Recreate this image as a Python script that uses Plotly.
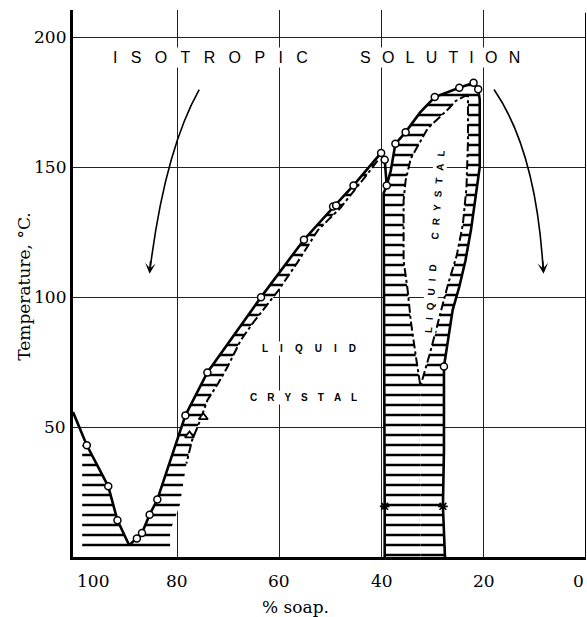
import plotly.graph_objects as go

# ---------------- data (x = % soap, y = temperature °C) ----------------
left_branch_x = [100.4, 97.7, 93.5, 91.7, 89.4]
left_branch_y = [55.8, 43.0, 27.2, 14.1, 4.5]

rise_x = [89.4, 87.9, 86.9, 85.4, 83.9, 78.4, 74.1, 63.6, 55.2, 49.2, 45.5, 40.1]
rise_y = [4.5, 7.1, 9.2, 16.3, 22.1, 54.5, 71.0, 100.0, 122.1, 135.1, 143.0, 155.5]

notch_x = [40.1, 39.4, 39.0]
notch_y = [155.5, 152.9, 143.0]

dome_x = [39.0, 38.2, 37.3, 35.3, 32.5, 29.6, 24.8, 22.0, 21.1]
dome_y = [143.0, 148.7, 159.0, 163.5, 171.0, 177.0, 180.6, 182.5, 180.0]

outer_right_x = [21.1, 20.8, 20.8, 21.5, 22.5, 23.6, 24.8, 26.1, 27.0, 27.8, 27.8, 28.0, 27.6]
outer_right_y = [180.0, 176.0, 150.0, 140.0, 126.0, 114.0, 104.0, 95.0, 84.0, 73.3, 41.0, 19.5, 0.0]

column_left_x = [39.4, 39.4, 39.6, 39.0]
column_left_y = [0.0, 19.5, 140.0, 143.0]

band_rail_x = [40.8, 42.7, 48.0, 52.5, 56.5, 60.2, 65.1, 67.6, 70.2, 72.0, 74.1, 75.5, 77.1, 78.2]
band_rail_y = [152.5, 147.6, 134.5, 125.7, 113.3, 102.6, 90.3, 83.3, 73.0, 66.8, 60.3, 52.6, 44.9, 36.0]

solid_edge_x = [78.2, 78.8, 79.5, 81.4, 81.4]
solid_edge_y = [36.0, 28.0, 20.0, 10.0, 2.5]
left_edge_x = [98.6, 98.6]
left_edge_y = [2.5, 43.0]

inner_left_x = [23.1, 25.5, 26.9, 31.0, 34.3, 35.3, 35.7, 35.7, 34.9, 34.3, 33.3, 32.4]
inner_left_y = [178.0, 175.5, 172.5, 164.9, 153.3, 144.9, 137.2, 114.1, 102.6, 91.0, 77.2, 65.7]
inner_right_x = [32.4, 30.6, 28.8, 27.0, 25.3, 24.1, 23.4, 23.1, 23.1]
inner_right_y = [65.7, 78.0, 92.0, 105.0, 116.0, 128.0, 142.0, 160.0, 178.0]

circle_x = [97.7, 93.5, 91.7, 87.9, 86.9, 85.4, 83.9, 78.4, 74.1, 63.6, 55.2, 49.5, 48.9, 45.5,
            40.1, 39.4, 39.0, 37.3, 35.3, 29.6, 24.8, 22.0, 21.1, 27.8]
circle_y = [43.0, 27.2, 14.1, 7.1, 9.2, 16.3, 22.1, 54.5, 71.0, 100.0, 122.1, 134.9, 135.3, 143.0,
            155.5, 152.9, 143.0, 159.0, 163.5, 177.0, 180.6, 182.5, 180.0, 73.3]
triangle_x = [77.6, 74.9]
triangle_y = [46.8, 53.8]
star_x = [39.4, 28.0]
star_y = [19.5, 19.5]

x_ticks = [100, 80, 60, 40, 20, 0]
x_tick_text = ["100", "80", "60", "40", "20", "0"]
y_ticks = [50, 100, 150, 200]
y_tick_text = ["50", "100", "150", "200"]

# ---------------- figure ----------------
SERIF = "DejaVu Serif"
SANS = "Liberation Sans"
pattern = dict(shape="-", size=10, solidity=0.25, fgcolor="black", fgopacity=1,
               bgcolor="white", fillmode="replace")

fig = go.Figure()

v_poly_x = left_edge_x + left_branch_x[1:] + rise_x[1:] + band_rail_x + solid_edge_x[1:]
v_poly_y = left_edge_y + left_branch_y[1:] + rise_y[1:] + band_rail_y + solid_edge_y[1:]
pa_x = column_left_x + dome_x[1:] + inner_left_x + [inner_left_x[-1]]
pa_y = column_left_y + dome_y[1:] + inner_left_y + [0.0]
pb_x = [inner_right_x[0]] + inner_right_x + outer_right_x
pb_y = [0.0] + inner_right_y + outer_right_y

for px, py in [(v_poly_x, v_poly_y), (pa_x, pa_y), (pb_x, pb_y)]:
    fig.add_trace(go.Scatter(x=px, y=py, mode="lines", fill="toself", fillcolor="white",
                             fillpattern=pattern, line=dict(width=0, color="rgba(0,0,0,0)"),
                             hoverinfo="skip"))

solid = dict(color="black", width=2.6)
rail = dict(color="black", width=2, dash="dashdot")

fig.add_trace(go.Scatter(x=left_branch_x, y=left_branch_y, mode="lines", line=solid))
fig.add_trace(go.Scatter(x=rise_x + notch_x[1:] + dome_x[1:] + outer_right_x[1:],
                         y=rise_y + notch_y[1:] + dome_y[1:] + outer_right_y[1:],
                         mode="lines", line=solid))
fig.add_trace(go.Scatter(x=column_left_x, y=column_left_y, mode="lines", line=solid))
fig.add_trace(go.Scatter(x=band_rail_x, y=band_rail_y, mode="lines", line=rail))
fig.add_trace(go.Scatter(x=inner_left_x + inner_right_x[1:], y=inner_left_y + inner_right_y[1:],
                         mode="lines", line=rail))

fig.add_trace(go.Scatter(x=circle_x, y=circle_y, mode="markers",
                         marker=dict(symbol="circle", size=7, color="white",
                                     line=dict(color="black", width=1.5))))
fig.add_trace(go.Scatter(x=triangle_x, y=triangle_y, mode="markers",
                         marker=dict(symbol="triangle-up", size=8, color="white",
                                     line=dict(color="black", width=1.8))))
fig.add_trace(go.Scatter(x=star_x, y=star_y, mode="markers",
                         marker=dict(symbol="asterisk-open", size=8, color="black",
                                     line=dict(color="black", width=1.6))))

# curved arrows
fig.add_shape(type="path", xref="x", yref="y",
              path="M 75.7 179.9 Q 82.4 156.4 85.3 111.0",
              line=dict(color="black", width=1.6))
fig.add_shape(type="path", xref="x", yref="y",
              path="M 18.0 179.9 Q 9.8 156.4 8.4 111.0",
              line=dict(color="black", width=1.6))
fig.add_annotation(x=85.4, y=109.0, ax=1, ay=-14, text="", showarrow=True,
                   arrowhead=3, arrowsize=1.1, arrowwidth=1.6, arrowcolor="black")
fig.add_annotation(x=8.3, y=109.0, ax=-1, ay=-14, text="", showarrow=True,
                   arrowhead=3, arrowsize=1.1, arrowwidth=1.6, arrowcolor="black")

# right border
fig.add_shape(type="line", xref="x", yref="paper", x0=0, x1=0, y0=0, y1=0.995,
              line=dict(color="black", width=2))


def spaced(word, sep):
    return sep.join(list(word))


def note(**kw):
    kw.setdefault("showarrow", False)
    kw.setdefault("xanchor", "center")
    kw.setdefault("yanchor", "middle")
    fig.add_annotation(**kw)


note(x=73.4, y=192.2, text=spaced("ISOTROPIC", "\u2007\u2008"),
     font=dict(family=SANS, size=16, color="black"), bgcolor="white")
note(x=28.5, y=192.2, text=spaced("SOLUTION", "\u2002\u2009"),
     font=dict(family=SANS, size=16, color="black"), bgcolor="white")
note(x=54.3, y=80.3, text=spaced("LIQUID", "\u2003\u2009"),
     font=dict(family=SANS, size=10, color="black", weight="bold"), bgcolor="white")
note(x=55.3, y=61.4, text=spaced("CRYSTAL", "\u2003"),
     font=dict(family=SANS, size=10, color="black", weight="bold"), bgcolor="white")
note(x=29.6, y=121.4,
     text=spaced("LIQUID", "\u2002\u2009") + "\u2003\u2003\u2002" + spaced("CRYSTAL", "\u2002\u2009"),
     textangle=-86, font=dict(family=SANS, size=10, color="black", weight="bold"),
     bgcolor="white")

# tick labels
for v, t in zip(x_ticks, x_tick_text):
    anchor = "left" if v == 100 else ("right" if v == 0 else "center")
    note(x=v, yref="paper", y=-0.0439, text=t, xanchor=anchor,
         font=dict(family=SERIF, size=17, color="black"))
for v, t in zip(y_ticks, y_tick_text):
    note(xref="paper", x=-0.0098, y=v, text=t, xanchor="right",
         font=dict(family=SERIF, size=17, color="black"))

note(x=56.9, yref="paper", y=-0.0914, text="% soap.",
     font=dict(family=SERIF, size=17, color="black"))
note(xref="paper", yref="paper", x=-0.0955, y=0.494, text="Temperature, °C.",
     textangle=-90, font=dict(family=SERIF, size=17, color="black"))

fig.update_layout(width=587, height=617, margin=dict(l=73, r=1, t=10, b=60),
                  plot_bgcolor="white", paper_bgcolor="white", showlegend=False)
fig.update_xaxes(range=[100.4, 0], tickvals=[80, 60, 40, 20], showticklabels=False,
                 showgrid=True, gridcolor="#222222", gridwidth=1, zeroline=False,
                 showline=True, linecolor="black", linewidth=2.5, ticks="")
fig.update_yaxes(range=[0, 210.5], tickvals=y_ticks, showticklabels=False, showgrid=True,
                 gridcolor="#222222", gridwidth=1, zeroline=False, showline=True,
                 linecolor="black", linewidth=2.5, ticks="")

fig.write_html("out.html", config={"displayModeBar": False},
               post_script="document.body.style.margin='0px';document.body.style.overflow='hidden';")
